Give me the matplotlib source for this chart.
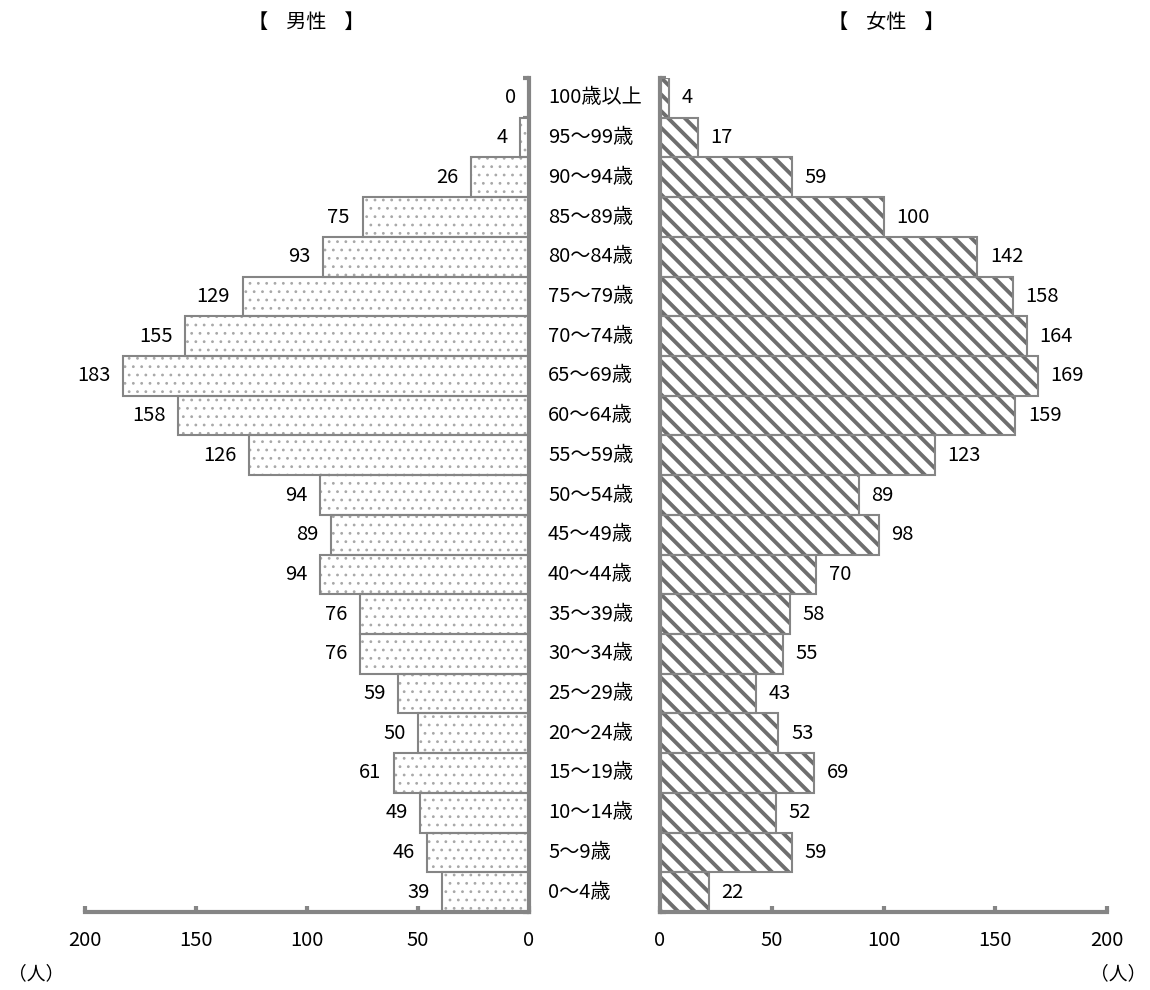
import numpy as np
import matplotlib
matplotlib.use("Agg")
import matplotlib.pyplot as plt

plt.rcParams['font.family'] = ['Noto Sans CJK JP', 'DejaVu Sans']

categories = ["100歳以上", "95～99歳", "90～94歳", "85～89歳", "80～84歳", "75～79歳",
              "70～74歳", "65～69歳", "60～64歳", "55～59歳", "50～54歳", "45～49歳",
              "40～44歳", "35～39歳", "30～34歳", "25～29歳", "20～24歳", "15～19歳",
              "10～14歳", "5～9歳", "0～4歳"]
male = [0, 4, 26, 75, 93, 129, 155, 183, 158, 126, 94, 89, 94, 76, 76, 59, 50, 61, 49, 46, 39]
female = [4, 17, 59, 100, 142, 158, 164, 169, 159, 123, 89, 98, 70, 58, 55, 43, 53, 69, 52, 59, 22]
xticks = [0, 50, 100, 150, 200]

GRAY = '#858585'
FS = 14.5

fig = plt.figure(figsize=(11.5, 9.9), dpi=100)
axL = fig.add_axes([85/1150, 1-912/990, (529-85)/1150, (912-78)/990])
axR = fig.add_axes([660/1150, 1-912/990, (1107-660)/1150, (912-78)/990])

y = np.arange(len(categories))

def style(ax, side, xlim):
    for s in ax.spines.values():
        s.set_visible(False)
    for s in ('bottom', side):
        ax.spines[s].set_visible(True)
        ax.spines[s].set_color(GRAY)
        ax.spines[s].set_linewidth(3)
    ax.set_xlim(*xlim)
    ax.set_ylim(len(categories) - 0.5, -0.5)
    ax.set_xticks(xticks)
    ax.set_xticklabels([str(t) for t in xticks], fontsize=FS)
    ax.tick_params(axis='x', direction='in', length=4, width=3, color=GRAY, pad=13)
    ax.set_yticks(np.arange(len(categories) + 1) - 0.5)
    ax.set_yticklabels([])
    ax.tick_params(axis='y', direction='in', length=4, width=3, color=GRAY,
                   left=(side == 'left'), right=(side == 'right'))

# male (left)
plt.rcParams['hatch.linewidth'] = 0.8
axL.barh(y, male, height=1.0, color='white', edgecolor='#a8a8a8', linewidth=0,
         hatch='..', zorder=2)
axL.barh(y, male, height=1.0, color='none', edgecolor=GRAY, linewidth=1.5, zorder=3)
style(axL, 'right', (200, 0))
for yi, v in zip(y, male):
    axL.annotate(str(v), (v, yi), xytext=(-9, 0), textcoords='offset points',
                 ha='right', va='center', fontsize=FS)

# female (right)
plt.rcParams['hatch.linewidth'] = 2.8
axR.barh(y, female, height=1.0, color='white', edgecolor='#6e6e6e', linewidth=0,
         hatch='\\\\', zorder=2)
axR.barh(y, female, height=1.0, color='none', edgecolor=GRAY, linewidth=1.5, zorder=3)
style(axR, 'left', (0, 200))
for yi, v in zip(y, female):
    axR.annotate(str(v), (v, yi), xytext=(9, 0), textcoords='offset points',
                 ha='left', va='center', fontsize=FS)

# category labels in the gap
for yi, c in zip(y, categories):
    axL.annotate(c, (0, yi), xytext=(548 - 529, 0), textcoords='offset pixels',
                 ha='left', va='center', fontsize=FS, annotation_clip=False)

fig.text(306/1150, 1-22/990, "【    男性    】", ha='center', va='center', fontsize=FS)
fig.text(886/1150, 1-22/990, "【    女性    】", ha='center', va='center', fontsize=FS)
fig.text(8/1150, 1-974/990, "（人）", ha='left', va='center', fontsize=FS - 1)
fig.text(1146/1150, 1-974/990, "（人）", ha='right', va='center', fontsize=FS - 1)

fig.savefig('out.png', dpi=100)
